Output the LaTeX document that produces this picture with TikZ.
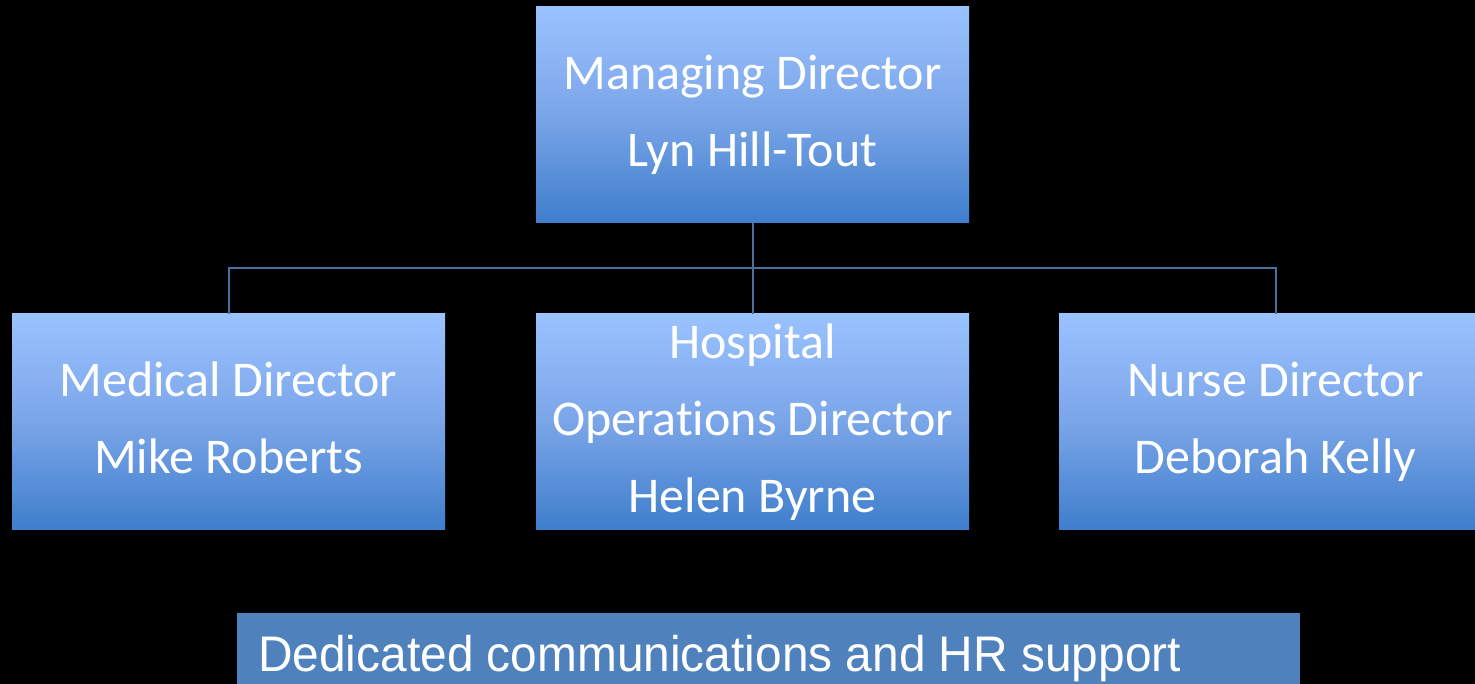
\documentclass[tikz,border=0pt]{standalone}
\usepackage{fontspec}
\setmainfont[Ligatures={NoCommon,NoContextual}]{Carlito}
\newfontfamily\arialfont{Liberation Sans}
\definecolor{gtop}{RGB}{154,194,255}
\definecolor{gmid}{RGB}{122,165,232}
\definecolor{gbot}{RGB}{62,126,204}
\definecolor{connc}{RGB}{74,112,160}
\definecolor{hrblue}{RGB}{79,129,189}
\tikzset{
  orgbox/.style={rectangle, inner sep=0pt, minimum width=433pt, minimum height=216pt,
    top color=gtop, bottom color=gbot, middle color=gmid, text=white, align=center,
    font=\fontsize{50}{77}\selectfont},
  conn/.style={draw=connc, line width=2pt}
}
\begin{document}
\begin{tikzpicture}[x=1pt,y=1pt]
\fill[black] (0,0) rectangle (1475,684);
\clip (0,0) rectangle (1475,684);
\useasboundingbox (0,0) rectangle (1475,684);
\node[orgbox] (top) at (752.5,569) {Managing Director\\Lyn Hill-Tout\vphantom{y}};
\node[orgbox] (med) at (228.5,262) {Medical Director\\Mike Roberts\vphantom{y}};
\node[orgbox] (hos) at (752.5,262) {Hospital\\Operat\kern0pt ions Director\\Helen Byrne\vphantom{y}};
\node[orgbox] (nur) at (1275.5,262) {Nurse Director\\Deborah Kelly\vphantom{y}};
\coordinate (bus) at (752.5,416);
\draw[conn] (top.south) -- (hos.north);
\draw[conn] (med.north) -- (med.north |- bus) -- (nur.north |- bus) -- (nur.north);
\node[rectangle, fill=hrblue, inner sep=0pt, minimum width=1063pt, minimum height=87pt] (hr) at (768.5,27.5) {};
\node[anchor=base west, inner sep=0pt, text=white, font=\arialfont\fontsize{50}{60}\selectfont] (hrtext) at (258,12) {\scalebox{0.957}[1]{Dedicated communications and HR support}};
\end{tikzpicture}
\end{document}
